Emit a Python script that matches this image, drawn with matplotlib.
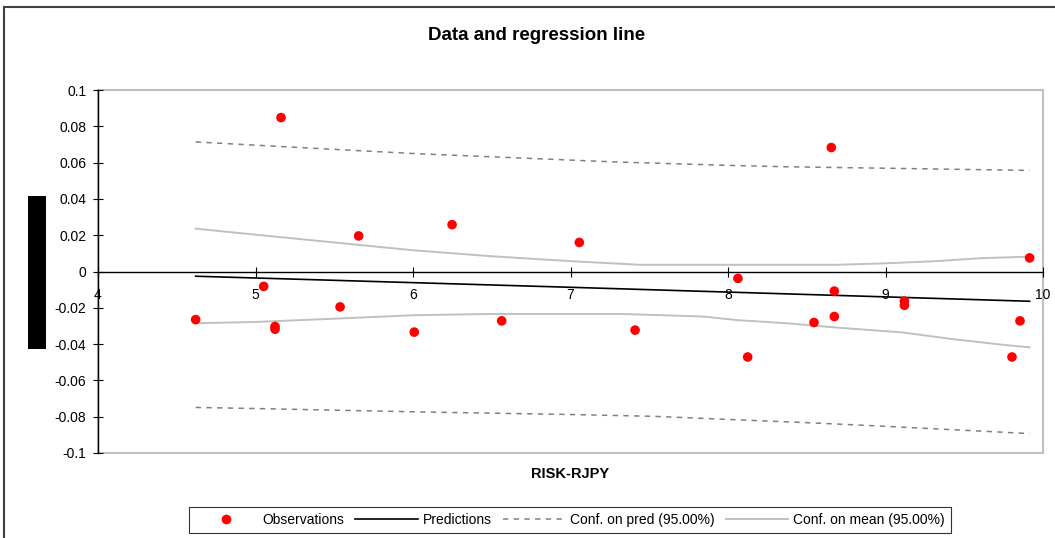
import matplotlib
matplotlib.use("Agg")
import matplotlib.pyplot as plt
from matplotlib.patches import Rectangle
from matplotlib.lines import Line2D

plt.rcParams['font.family'] = ['Liberation Sans', 'DejaVu Sans']
plt.rcParams['axes.unicode_minus'] = False

# Observations
obs_x = [4.620, 5.052, 5.124, 5.124, 5.162, 5.537, 5.655, 6.008, 6.248, 6.563,
         7.056, 7.410, 8.063, 8.125, 8.546, 8.656, 8.675, 8.675, 9.120, 9.120,
         9.803, 9.854, 9.915]
obs_y = [-0.0265, -0.0082, -0.0303, -0.0318, 0.0848, -0.0195, 0.0196, -0.0334, 0.0258, -0.0272,
         0.0160, -0.0323, -0.0038, -0.0471, -0.0281, 0.0683, -0.0108, -0.0248, -0.0163, -0.0186,
         -0.0471, -0.0272, 0.0075]

# Regression line
pred_x = [4.620, 7.0, 9.915]
pred_y = [-0.0026, -0.0087, -0.0164]

# Confidence on prediction
cpred_up_x = [4.620, 5.0, 6.0, 6.97, 7.27, 7.95, 8.37, 8.92, 9.915]
cpred_up_y = [0.0714, 0.0696, 0.0650, 0.0615, 0.0604, 0.0586, 0.0577, 0.0570, 0.0557]
cpred_lo_x = [4.620, 5.0, 6.0, 7.0, 7.53, 8.0, 8.56, 9.0, 9.41, 9.915]
cpred_lo_y = [-0.0749, -0.0755, -0.0773, -0.0788, -0.0798, -0.0815, -0.0835, -0.0853, -0.0871, -0.0893]

# Confidence on mean
cmean_up_x = [4.620, 5.0, 5.5, 6.0, 6.5, 7.0, 7.44, 8.69, 9.0, 9.32, 9.6, 9.915]
cmean_up_y = [0.0236, 0.0203, 0.0160, 0.0117, 0.0084, 0.0057, 0.0037, 0.0037, 0.0045, 0.0057, 0.0073, 0.0082]
cmean_lo_x = [4.620, 5.0, 5.5, 6.0, 6.5, 7.0, 7.33, 7.84, 8.06, 8.37, 8.69, 9.11, 9.43, 9.75, 9.915]
cmean_lo_y = [-0.0285, -0.0278, -0.0260, -0.0241, -0.0234, -0.0234, -0.0234, -0.0248, -0.0268, -0.0285,
              -0.0309, -0.0336, -0.0373, -0.0404, -0.0418]

x_ticks = [4, 5, 6, 7, 8, 9, 10]
x_ticklabels = ["4", "5", "6", "7", "8", "9", "10"]
y_ticks = [-0.1, -0.08, -0.06, -0.04, -0.02, 0, 0.02, 0.04, 0.06, 0.08, 0.1]
y_ticklabels = ["-0.1", "-0.08", "-0.06", "-0.04", "-0.02", "0", "0.02", "0.04", "0.06", "0.08", "0.1"]

W, H = 1055, 538
fig = plt.figure(figsize=(W / 100, H / 100), dpi=100)
ax = fig.add_axes([98 / W, 1 - 453 / H, 945 / W, 363 / H])

c_mean = '#c0c0c0'
c_pred = '#808080'

ax.plot(cmean_up_x, cmean_up_y, color=c_mean, lw=1.4, zorder=2)
ax.plot(cmean_lo_x, cmean_lo_y, color=c_mean, lw=1.4, zorder=2)
ax.plot(cpred_up_x, cpred_up_y, color=c_pred, lw=1.1, dashes=(3.5, 3.5), zorder=2)
ax.plot(cpred_lo_x, cpred_lo_y, color=c_pred, lw=1.1, dashes=(3.5, 3.5), zorder=2)
ax.plot(pred_x, pred_y, color='black', lw=1.2, zorder=3)
ax.scatter(obs_x, obs_y, s=48, color='#ff0000', edgecolors='none', zorder=4)

ax.set_xlim(4, 10)
ax.set_ylim(-0.1, 0.1)
ax.set_xticks(x_ticks)
ax.set_xticklabels(x_ticklabels)
ax.set_yticks(y_ticks)
ax.set_yticklabels(y_ticklabels)

for s in ['top', 'right']:
    ax.spines[s].set_visible(False)
ax.spines['bottom'].set_position(('data', 0))
ax.spines['bottom'].set_color('black')
ax.spines['left'].set_color('black')
ax.spines['bottom'].set_linewidth(1.0)
ax.spines['left'].set_linewidth(1.0)
ax.spines['bottom'].set_zorder(5)
ax.spines['left'].set_zorder(5)

# grey plot-area frame
frame = Rectangle((0, 0), 1, 1, transform=ax.transAxes, fill=False,
                  edgecolor='#c0c0c0', lw=1.5, zorder=1, clip_on=False)
ax.add_patch(frame)

ax.tick_params(axis='x', direction='inout', length=7, width=0.8, pad=8.5,
               labelsize=10, colors='black')
ax.tick_params(axis='y', direction='inout', length=7, width=0.8, pad=5,
               labelsize=10, colors='black')

ax.set_xlabel("RISK-RJPY", fontsize=10.5, fontweight='bold')
ax.xaxis.set_label_coords(0.5, (453 - 474) / 363, transform=ax.transAxes)
ax.xaxis.label.set_va('center')

fig.text(537 / W, 1 - 35 / H, "Data and regression line", ha='center', va='center',
         fontsize=13.5, fontweight='bold')

# black box (y-axis title area)
fig.patches.append(Rectangle((28 / W, 1 - 349 / H), 18 / W, 153 / H,
                             transform=fig.transFigure, facecolor='black',
                             edgecolor='none'))
# outer chart border
fig.patches.append(Rectangle((4 / W, -0.05), 1.0, 1 - 7 / H + 0.05,
                             transform=fig.transFigure, fill=False,
                             edgecolor='#404040', lw=1.5))

handles = [
    Line2D([], [], marker='o', color='#ff0000', ls='none', markersize=7, markeredgewidth=0),
    Line2D([], [], color='black', lw=1.2),
    Line2D([], [], color=c_pred, lw=1.1, dashes=(3.5, 3.5)),
    Line2D([], [], color=c_mean, lw=1.4),
]
labels = ["Observations", "Predictions", "Conf. on pred (95.00%)", "Conf. on mean (95.00%)"]
leg = fig.legend(handles, labels, loc='center', bbox_to_anchor=(570 / W, 1 - 520 / H),
                 ncol=4, fontsize=10, frameon=True, fancybox=False, edgecolor='black',
                 handlelength=4.5, handletextpad=0.35, columnspacing=0.8,
                 borderpad=0.42, borderaxespad=0)
leg.get_frame().set_linewidth(0.8)

fig.savefig("out.png", dpi=100)
